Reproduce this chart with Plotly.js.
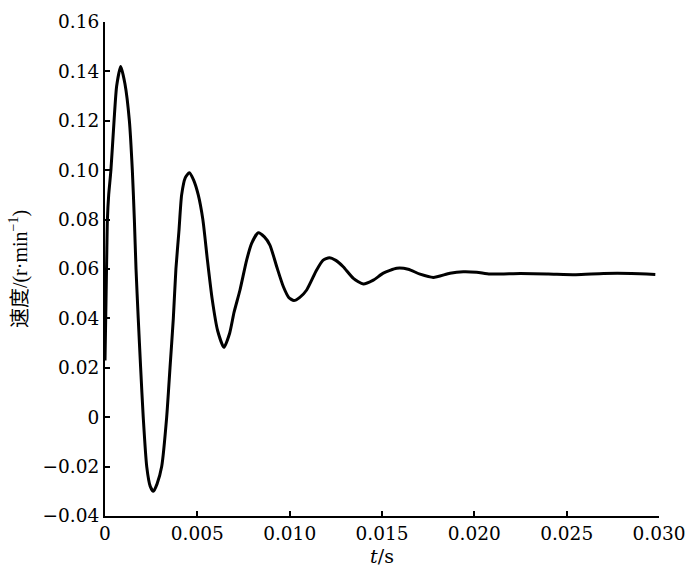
<!DOCTYPE html>
<html>
<head>
<meta charset="utf-8">
<script src="https://cdn.plot.ly/plotly-3.0.1.min.js"></script>
<style>html,body{margin:0;padding:0;background:#fff;}#chart{width:700px;height:575px;}</style>
</head>
<body>
<div id="chart"></div>
<script>
// time (s)
var timeS = [0, 0.00005, 0.0001, 0.00013, 0.0002, 0.00032, 0.00049, 0.00063, 0.00085, 0.00108,
  0.00132, 0.00148, 0.00159, 0.00168, 0.0018, 0.00193, 0.00207, 0.00226, 0.00245, 0.00262,
  0.00282, 0.00307, 0.00334, 0.00352, 0.0037, 0.00384, 0.0040, 0.00415, 0.00435, 0.00457,
  0.0048, 0.00505, 0.0053, 0.00554, 0.0058, 0.0061, 0.00644, 0.00675, 0.00699, 0.00731,
  0.00767, 0.00794, 0.0083, 0.00863, 0.00893, 0.0093, 0.00966, 0.00995, 0.01023, 0.01055,
  0.01092, 0.01146, 0.0118, 0.01215, 0.0125, 0.0129, 0.01345, 0.01399, 0.01453, 0.01507,
  0.0158, 0.01642, 0.01706, 0.01778, 0.01868, 0.0194, 0.02013, 0.02085, 0.0225, 0.024,
  0.0255, 0.027, 0.0285, 0.0298];
// speed (r/min)
var speed = [0.023, 0.045, 0.068, 0.08, 0.09, 0.10, 0.12, 0.134, 0.142, 0.135,
  0.12, 0.10, 0.08, 0.06, 0.04, 0.02, 0.0, -0.02, -0.028, -0.030,
  -0.027, -0.02, 0.0, 0.02, 0.04, 0.06, 0.075, 0.09, 0.097, 0.099,
  0.096, 0.09, 0.08, 0.064, 0.048, 0.035, 0.0283, 0.034, 0.0425, 0.0515,
  0.0636, 0.0704, 0.0747, 0.073, 0.0697, 0.0609, 0.0528, 0.0485, 0.0472, 0.0485,
  0.0515, 0.0596, 0.0635, 0.0646, 0.0635, 0.0609, 0.0562, 0.0539, 0.0555, 0.0583,
  0.0603, 0.0599, 0.0579, 0.0566, 0.0583, 0.0589, 0.0587, 0.058, 0.0582, 0.058,
  0.0577, 0.0582, 0.0582, 0.0578];

var xTickVals = [0, 0.005, 0.010, 0.015, 0.020, 0.025, 0.030];
var xTickText = ["0", "0.005", "0.010", "0.015", "0.020", "0.025", "0.030"];
var yTickVals = [-0.04, -0.02, 0, 0.02, 0.04, 0.06, 0.08, 0.10, 0.12, 0.14, 0.16];
var yTickText = ["\u22120.04", "\u22120.02", "0", "0.02", "0.04", "0.06", "0.08", "0.10", "0.12", "0.14", "0.16"];

var fontFam = "'DejaVu Serif', 'Liberation Serif', serif";

var trace = {
  x: timeS, y: speed, type: 'scatter', mode: 'lines',
  line: {color: '#000', width: 3, shape: 'spline', smoothing: 0.6},
  hoverinfo: 'skip'
};

var layout = {
  width: 700, height: 575,
  margin: {l: 105, r: 41, t: 22, b: 59, pad: 0},
  paper_bgcolor: '#fff', plot_bgcolor: '#fff',
  showlegend: false,
  font: {family: fontFam, color: '#000', size: 18},
  xaxis: {
    range: [0, 0.030], tickvals: xTickVals, ticktext: xTickText,
    showgrid: false, zeroline: false, showline: true, linecolor: '#000', linewidth: 2,
    ticks: 'inside', ticklen: 5, tickwidth: 2, tickcolor: '#000',
    tickfont: {family: fontFam, size: 18.5, color: '#000'},
    title: {text: '<i>t</i>/s', font: {family: fontFam, size: 19, color: '#000'}, standoff: 6}
  },
  yaxis: {
    range: [-0.04, 0.16], tickvals: yTickVals, ticktext: yTickText,
    showgrid: false, zeroline: false, showline: true, linecolor: '#000', linewidth: 2,
    ticks: 'inside', ticklen: 5, tickwidth: 2, tickcolor: '#000',
    tickfont: {family: fontFam, size: 18.5, color: '#000'},
    title: {text: '速度/(r·min<sup>−1</sup>)', font: {family: "'Liberation Serif', 'Noto Sans CJK SC', serif", size: 20, color: '#000'}, standoff: 10}
  }
};

Plotly.newPlot('chart', [trace], layout, {displayModeBar: false, staticPlot: true});
</script>
</body>
</html>
